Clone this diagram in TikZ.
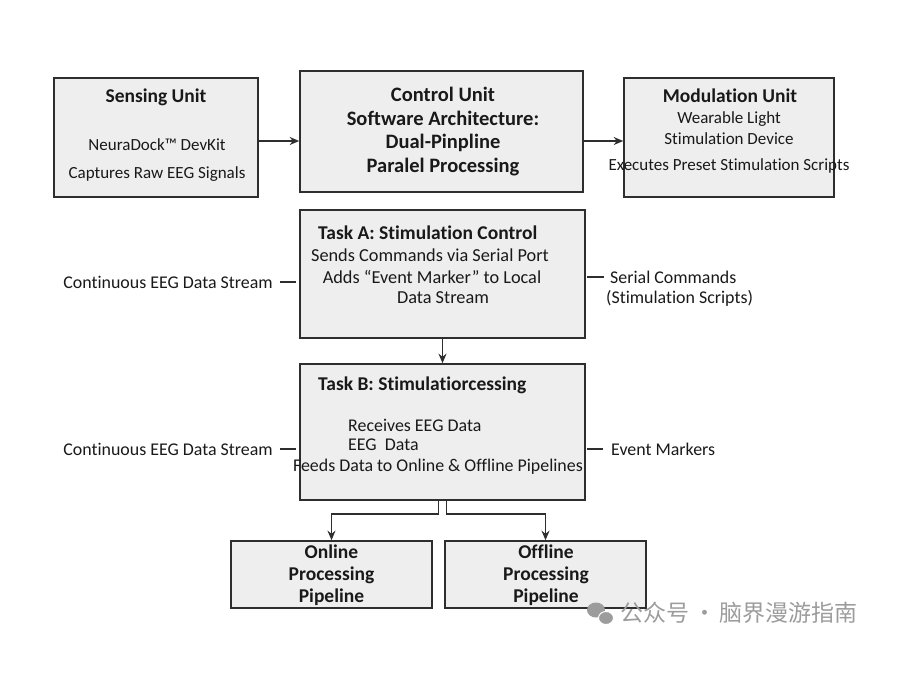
\documentclass[tikz,border=0pt]{standalone}
\usepackage{fontspec}
\setmainfont{Carlito}[Ligatures={NoCommon}]
\newfontfamily\cjkfont{Noto Sans CJK SC}
\usepackage{tikz}
\usetikzlibrary{arrows.meta, positioning, calc}
\definecolor{boxfill}{HTML}{EEEEEE}
\definecolor{boxline}{HTML}{2E2E2E}
\definecolor{wmark}{HTML}{9C9C9C}

\begin{document}
\begin{tikzpicture}[x=1pt, y=-1pt, >={Stealth[length=9.5pt, width=8pt]}]
  \tikzset{
    unit/.style={draw=boxline, fill=boxfill, line width=1.6pt, inner sep=0pt},
    body/.style={font=\fontsize{17}{20}\selectfont, inner sep=0pt, text=black!90},
    side/.style={font=\fontsize{17.9}{21}\selectfont, inner sep=0pt, text=black!90},
    head/.style={font=\fontsize{19.5}{23}\selectfont\bfseries, inner sep=0pt, text=black!90},
    link/.style={draw=boxline, line width=1.6pt}
  }
  \useasboundingbox (0,0) rectangle (900,675);

  % 1. Horní řada jednotek
  \node[unit, minimum width=204pt, minimum height=119pt] (sensing) at (156,137.5) {};
  \node[unit, minimum width=283pt, minimum height=121pt] (control) at (441.5,131.5) {};
  \node[unit, minimum width=210pt, minimum height=119pt] (modulation) at (729,137.5) {};

  \node[head] (sensingT) at (156,97) {Sensing Unit};
  \node[body, align=center, font=\fontsize{17}{28}\selectfont] (sensingB) at (157,160) {NeuraDock™ DevKit\\Captures Raw EEG Signals};
  \node[head, align=center, font=\fontsize{20.5}{23.7}\selectfont\bfseries] (controlT) at (443,131.5)
    {Control Unit\\Software Architecture:\\Dual-Pinpline\\Paralel Processing};
  \node[head] (modulationT) at (730,96) {Modulation Unit};
  \node[body, align=center, font=\fontsize{17}{21}\selectfont] (modulationB) at (729,128.5) {Wearable Light\\Stimulation Device};
  \node[body] (modulationS) at (729,166) {Executes Preset Stimulation Scripts};

  \draw[link, ->] ([yshift=-3.5pt]sensing.east) -- ([yshift=-3.5pt]sensing.east -| control.west);
  \draw[link, ->] ([yshift=-3.5pt]modulation.west -| control.east) -- ([yshift=-3.5pt]modulation.west);

  % 2. Task A
  \node[unit, minimum width=285pt, minimum height=128pt] (taskA) at (442.5,274) {};
  \node[head, anchor=west] (taskAT) at (318,233) {Task A: Stimulation Control};
  \node[side, font=\fontsize{18.3}{20}\selectfont] (taskA1) at (430,255) {Sends Commands via Serial Port};
  \node[side, font=\fontsize{18.3}{20}\selectfont] (taskA2) at (432,277) {Adds “Event Marker” to Local};
  \node[side, font=\fontsize{18.3}{20}\selectfont] (taskA3) at (443,298) {Data Stream};

  \node[side, anchor=east] (streamA) at (273,282) {Continuous EEG Data Stream};
  \node[side, anchor=west] (serialA) at (610,277) {Serial Commands};
  \node[side, anchor=west] (scriptsA) at (606,298) {(Stimulation Scripts)};
  \draw[link, shorten <=7pt, shorten >=3pt] (streamA.east) -- (streamA.east -| taskA.west);
  \draw[link, shorten <=1pt, shorten >=6pt] (serialA.west -| taskA.east) -- (serialA.west);

  % 3. Task B
  \node[unit, minimum width=285pt, minimum height=136pt] (taskB) at (442.5,432) {};
  \node[head, anchor=west] (taskBT) at (318,385) {Task B: Stimulatiorcessing};
  \node[side, anchor=west] (taskB1) at (348,425) {Receives EEG Data};
  \node[side, anchor=west] (taskB2) at (348,445) {EEG\ \ Data};
  \node[side] (taskB3) at (438,467) {Feeds Data to Online \& Offline Pipelines};

  \node[side, anchor=east] (streamB) at (273,449) {Continuous EEG Data Stream};
  \node[side, anchor=west] (markersB) at (611,449) {Event Markers};
  \draw[link, shorten <=7pt, shorten >=3pt] (streamB.east) -- (streamB.east -| taskB.west);
  \draw[link, shorten <=1pt, shorten >=8pt] (markersB.west -| taskB.east) -- (markersB.west);

  \draw[link, ->] (taskA.south) -- (taskB.north);

  % 4. Zpracovatelské linky
  \node[unit, minimum width=201pt, minimum height=67pt] (online) at (331.5,574.5) {};
  \node[unit, minimum width=201pt, minimum height=67pt] (offline) at (545.5,574.5) {};
  \node[head, align=center, font=\fontsize{19.5}{22}\selectfont\bfseries] (onlineT) at (331.5,575) {Online\\Processing\\Pipeline};
  \node[head, align=center, font=\fontsize{19.5}{22}\selectfont\bfseries] (offlineT) at (546,575) {Offline\\Processing\\Pipeline};

  \draw[link, ->] ([xshift=-4pt]taskB.south) -- ++(0,13) -| (online.north);
  \draw[link, ->] ([xshift=4pt]taskB.south) -- ++(0,13) -| (offline.north);

  % Vodoznak
  \fill[wmark] (596,610) ellipse [x radius=9, y radius=7.5];
  \draw[fill=wmark, draw=white, line width=1pt] (606,618) ellipse [x radius=7.5, y radius=6.5];
  \node[anchor=west, text=wmark, inner sep=0pt, font=\cjkfont\fontsize{23}{26}\selectfont] (wmarkT) at (620,613) {公众号\,·\,脑界漫游指南};
\end{tikzpicture}
\end{document}
